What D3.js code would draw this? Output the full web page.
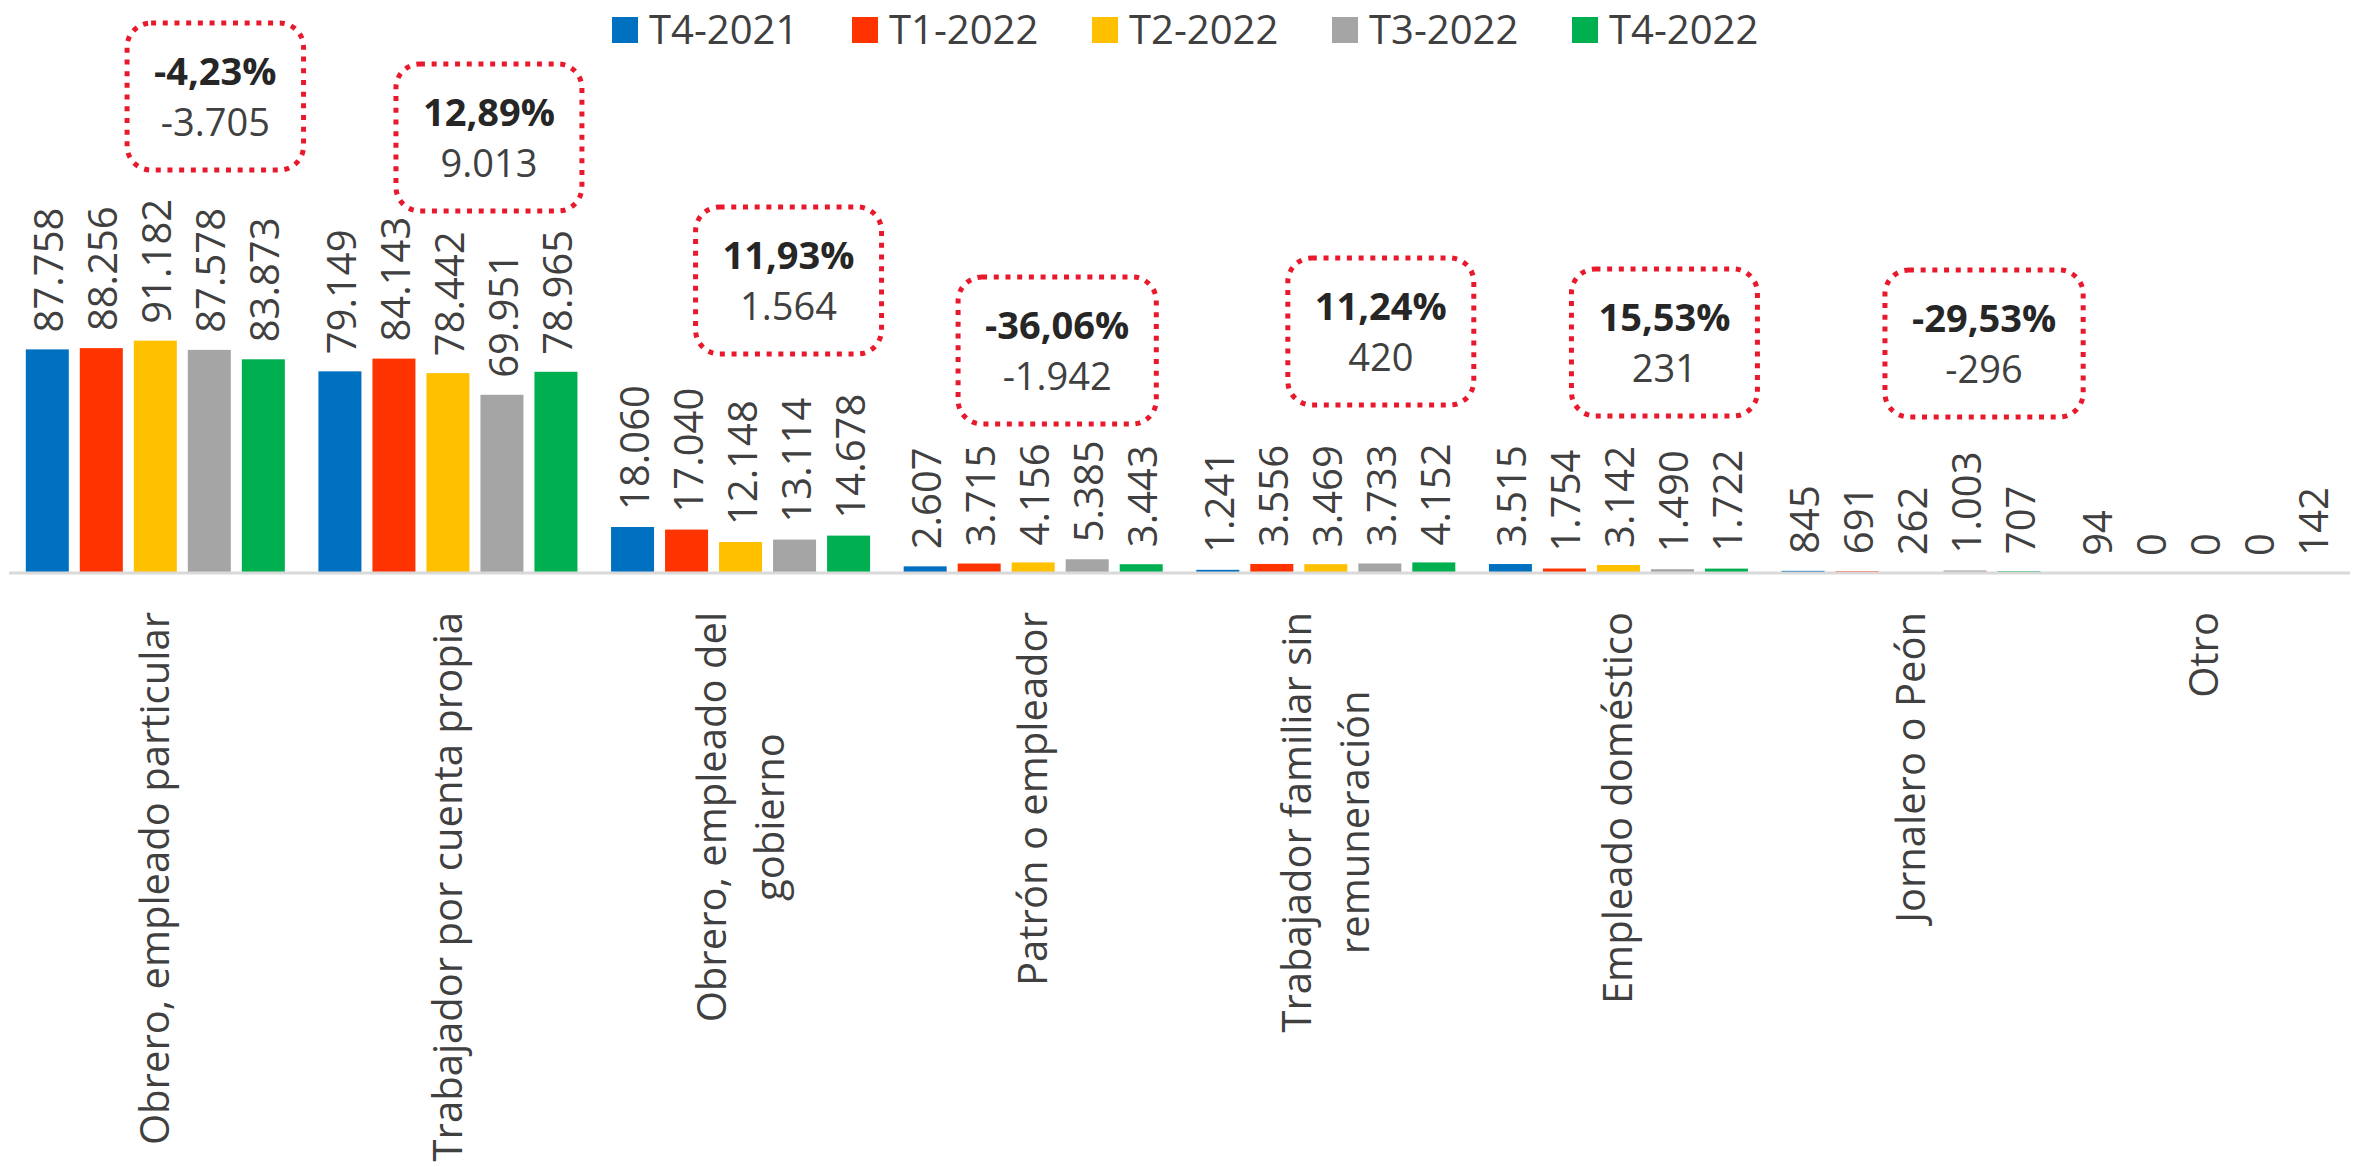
<!DOCTYPE html>
<html>
<head>
<meta charset="utf-8">
<script src="https://cdn.jsdelivr.net/npm/d3@7.9.0/dist/d3.min.js"></script>
<style>
  html, body { margin: 0; padding: 0; background: #fff; }
  svg text { font-family: "Open Sans", "Noto Sans", sans-serif; }
</style>
</head>
<body>
<div id="chart"></div>
<script>
// categories and series
const categories = [
  ["Obrero, empleado particular"],
  ["Trabajador por cuenta propia"],
  ["Obrero, empleado del", "gobierno"],
  ["Patrón o empleador"],
  ["Trabajador familiar sin", "remuneración"],
  ["Empleado doméstico"],
  ["Jornalero o Peón"],
  ["Otro"]
];
const seriesNames = ["T4-2021", "T1-2022", "T2-2022", "T3-2022", "T4-2022"];
const seriesColors = ["#0070C0", "#FF3300", "#FFC000", "#A5A5A5", "#00B050"];

const t4_2021 = [87758, 79149, 18060, 2607, 1241, 3515, 845, 94];
const t1_2022 = [88256, 84143, 17040, 3715, 3556, 1754, 691, 0];
const t2_2022 = [91182, 78442, 12148, 4156, 3469, 3142, 262, 0];
const t3_2022 = [87578, 69951, 13114, 5385, 3733, 1490, 1003, 0];
const t4_2022 = [83873, 78965, 14678, 3443, 4152, 1722, 707, 142];
const seriesValues = [t4_2021, t1_2022, t2_2022, t3_2022, t4_2022];

// variation notes (T4-2022 vs T3-2022), one per category except "Otro"
const notePct = ["-4,23%", "12,89%", "11,93%", "-36,06%", "11,24%", "15,53%", "-29,53%"];
const noteAbs = ["-3.705", "9.013", "1.564", "-1.942", "420", "231", "-296"];
// where each note box sits: x offset from group centre, top y
const noteDx = [60, 41, 48, 24, 55, 46, 73];
const noteTop = [23, 64, 207, 277, 258, 269, 270];

const width = 2357;
const height = 1167;
const baseline = 573;

const fmt = d3.formatLocale({ decimal: ",", thousands: ".", grouping: [3], currency: ["$", ""] }).format(",d");

const svg = d3.select("#chart").append("svg")
  .attr("width", width)
  .attr("height", height);

const x0 = d3.scaleBand()
  .domain(d3.range(categories.length))
  .range([9, 2350]);

const x1 = d3.scaleBand()
  .domain(d3.range(seriesNames.length))
  .range([0, x0.bandwidth()])
  .paddingInner(0.2037)
  .paddingOuter(0.311);

const y = d3.scaleLinear()
  .domain([0, 100000])
  .range([baseline, baseline - 254.8]);

// bars + value labels
const groups = svg.append("g").selectAll("g")
  .data(categories)
  .join("g")
  .attr("transform", (d, i) => `translate(${x0(i)},0)`);

seriesValues.forEach((vals, s) => {
  groups.append("rect")
    .attr("x", x1(s))
    .attr("width", x1.bandwidth())
    .attr("y", (d, i) => y(vals[i]))
    .attr("height", (d, i) => baseline - y(vals[i]))
    .attr("fill", seriesColors[s]);

  groups.append("text")
    .attr("transform", (d, i) => `translate(${x1(s) + x1.bandwidth() / 2},${y(vals[i]) - 17}) rotate(-90)`)
    .attr("dy", "0.4em")
    .attr("font-size", 40)
    .attr("fill", "#404040")
    .text((d, i) => fmt(vals[i]));
});

// category axis line
svg.append("line")
  .attr("x1", x0.range()[0])
  .attr("x2", x0.range()[1])
  .attr("y1", baseline)
  .attr("y2", baseline)
  .attr("stroke", "#D9D9D9")
  .attr("stroke-width", 3);

// category labels (rotated, lines centred, top of longest line near the axis)
categories.forEach((lines, i) => {
  const g = svg.append("g");
  const texts = lines.map((t, k) => g.append("text")
    .attr("text-anchor", "middle")
    .attr("font-size", 40)
    .attr("fill", "#404040")
    .attr("y", (k - (lines.length - 1) / 2) * 58)
    .attr("dy", "0.35em")
    .text(t));
  const maxLen = d3.max(texts, t => t.node().getComputedTextLength());
  g.attr("transform", `translate(${x0(i) + x0.bandwidth() / 2},${612 + maxLen / 2}) rotate(-90)`);
});

// legend
const legend = svg.append("g").selectAll("g")
  .data(seriesNames)
  .join("g")
  .attr("transform", (d, i) => `translate(${612 + i * 240},17)`);

legend.append("rect")
  .attr("width", 26)
  .attr("height", 26)
  .attr("fill", (d, i) => seriesColors[i]);

legend.append("text")
  .attr("x", 37)
  .attr("y", 27)
  .attr("font-size", 40)
  .attr("fill", "#404040")
  .text(d => d);

// note boxes
notePct.forEach((pct, i) => {
  const cx = x0(i) + x0.bandwidth() / 2 + noteDx[i];
  const top = noteTop[i];
  const g = svg.append("g");
  const box = g.append("rect");
  const t1 = g.append("text")
    .attr("x", cx)
    .attr("y", top + 62)
    .attr("text-anchor", "middle")
    .attr("font-size", 38)
    .attr("font-weight", "bold")
    .attr("fill", "#262626")
    .text(pct);
  const t2 = g.append("text")
    .attr("x", cx)
    .attr("y", top + 113)
    .attr("text-anchor", "middle")
    .attr("font-size", 38)
    .attr("fill", "#404040")
    .text(noteAbs[i]);
  const w = Math.max(t1.node().getComputedTextLength(), t2.node().getComputedTextLength()) + 54;
  box.attr("x", cx - w / 2)
    .attr("y", top)
    .attr("width", w)
    .attr("height", 147)
    .attr("rx", 24)
    .attr("fill", "none")
    .attr("stroke", "#E8192C")
    .attr("stroke-width", 5)
    .attr("stroke-dasharray", "5 6.7");
});
</script>
</body>
</html>
